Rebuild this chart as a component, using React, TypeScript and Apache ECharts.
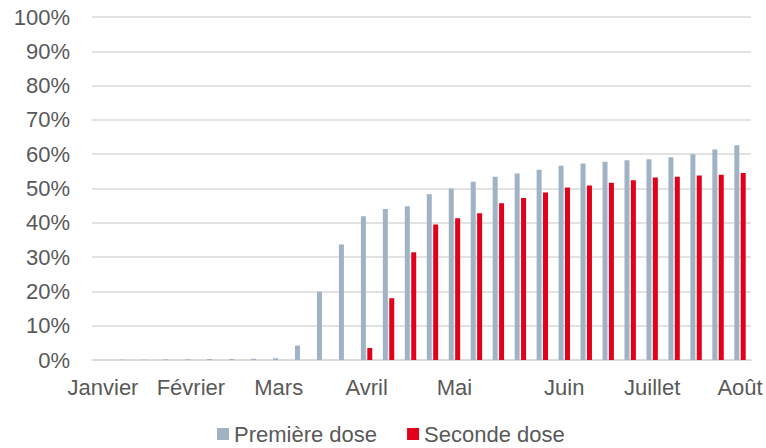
import React, { useEffect, useRef } from "react";
import * as echarts from "echarts";

const categories = [
  "Janvier", "", "", "", "Février", "", "", "", "Mars", "", "", "", "Avril", "", "", "",
  "Mai", "", "", "", "", "Juin", "", "", "", "Juillet", "", "", "", "Août",
];
const premiereDose = [
  0, 0.1, 0.1, 0.2, 0.2, 0.3, 0.3, 0.4, 0.5, 4.2, 19.9, 33.7, 41.9, 44.0, 44.8,
  48.3, 50.0, 52.0, 53.4, 54.4, 55.5, 56.6, 57.3, 57.8, 58.2, 58.5, 59.1, 60.0, 61.4, 62.6,
];
const secondeDose = [
  0, 0, 0, 0, 0, 0, 0, 0, 0, 0, 0, 0, 3.5, 18.0, 31.4,
  39.5, 41.3, 42.8, 45.7, 47.2, 48.8, 50.3, 50.9, 51.7, 52.4, 53.2, 53.4, 53.8, 54.0, 54.5,
];
const seriesNames = ["Première dose", "Seconde dose"];

const FONT = "'Liberation Sans', Arial, Helvetica, sans-serif";
const TEXT = "#595959";
const GRID = "#d9d9d9";

export default function App() {
  const ref = useRef<HTMLDivElement>(null);
  useEffect(() => {
    if (!ref.current) return;
    const chart = echarts.init(ref.current, undefined, { renderer: "svg" });
    chart.setOption({
      animation: false,
      textStyle: { fontFamily: FONT },
      grid: { left: 92, right: 15, top: 17, bottom: 88, containLabel: false },
      legend: {
        data: seriesNames,
        left: 217,
        top: 422,
        padding: 0,
        icon: "rect",
        itemWidth: 12,
        itemHeight: 12,
        itemGap: 30,
        textStyle: { color: TEXT, fontSize: 22, lineHeight: 24, fontFamily: FONT },
      },
      xAxis: {
        type: "category",
        data: categories,
        axisLine: { lineStyle: { color: GRID, width: 1.5 } },
        axisTick: { show: false },
        axisLabel: {
          interval: 0,
          color: TEXT,
          fontSize: 22,
          fontFamily: FONT,
          margin: 16,
        },
      },
      yAxis: {
        type: "value",
        min: 0,
        max: 100,
        interval: 10,
        axisLine: { show: false },
        axisTick: { show: false },
        splitLine: { lineStyle: { color: GRID, width: 1.5 } },
        axisLabel: {
          formatter: "{value}%",
          color: TEXT,
          fontSize: 22,
          fontFamily: FONT,
          margin: 22,
        },
      },
      series: [
        {
          name: seriesNames[0],
          type: "bar",
          data: premiereDose,
          barWidth: 5,
          barGap: "28%",
          itemStyle: { color: "#9FB3C4" },
        },
        {
          name: seriesNames[1],
          type: "bar",
          data: secondeDose,
          barWidth: 5,
          itemStyle: { color: "#E3001B" },
        },
      ],
    });
    return () => chart.dispose();
  }, []);
  return (
    <div
      ref={ref}
      style={{ position: "fixed", left: 0, top: 0, width: 766, height: 448, background: "#fff" }}
    />
  );
}
